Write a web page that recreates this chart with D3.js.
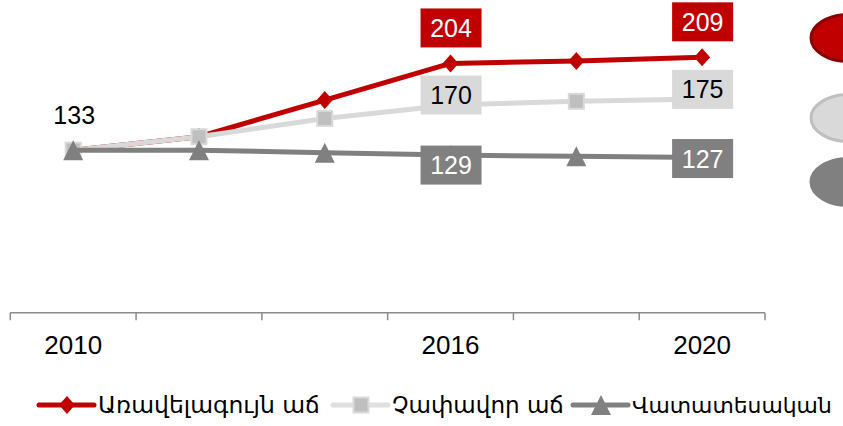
<!DOCTYPE html>
<html>
<head>
<meta charset="utf-8">
<script src="https://cdn.jsdelivr.net/npm/d3@7"></script>
<style>
    body { margin: 0; background: #fff; overflow: hidden; }
</style>
</head>
<body>
<svg id="svg" width="843" height="426"></svg>
<script>
const years = ['2010', '2012', '2014', '2016', '2018', '2020']
const shownYears = ['2010', '2016', '2020']
const seriesNames = ['Առավելագույն աճ', 'Չափավոր աճ', 'Վատատեսական']
const maxGrowth = [133, 144, 174, 204, 206, 209]
const moderateGrowth = [133, 144, 159, 170, 173, 175]
const pessimistic = [133, 133, 131, 129, 128, 127]
const labelledYears = ['2016', '2020']

const svg = d3.select('#svg')

const x = d3.scaleBand().domain(years).range([10.3, 765])
const y = d3.scaleLinear().domain([0, 250]).range([312.7, 7.25])
const cx = (d, i) => x(years[i]) + x.bandwidth() / 2

// decoration on the right edge
const bubbles = [
    { cy: 38, fill: '#c00000', stroke: '#8b0000' },
    { cy: 118, fill: '#d9d9d9', stroke: '#bfbfbf' },
    { cy: 182, fill: '#808080', stroke: '#808080' }
]
svg.selectAll('ellipse.bubble')
    .data(bubbles)
    .enter()
    .append('ellipse')
    .attr('cx', 849)
    .attr('cy', (d) => d.cy)
    .attr('rx', 38)
    .attr('ry', 23.5)
    .attr('fill', (d) => d.fill)
    .attr('stroke', (d) => d.stroke)
    .attr('stroke-width', 3)

// axis
const axisY = y(0)
svg.append('line')
    .attr('x1', x.range()[0]).attr('x2', x.range()[1])
    .attr('y1', axisY).attr('y2', axisY)
    .attr('stroke', '#8c8c8c').attr('stroke-width', 1.5)
const bounds = years.map((d) => x(d)).concat([x.range()[1]])
svg.selectAll('line.tick')
    .data(bounds)
    .enter()
    .append('line')
    .attr('x1', (d) => d).attr('x2', (d) => d)
    .attr('y1', axisY).attr('y2', axisY + 7.5)
    .attr('stroke', '#8c8c8c').attr('stroke-width', 1.5)

const xAxis = d3.axisBottom(x)
    .tickSize(0)
    .tickFormat((d) => shownYears.includes(d) ? d : '')
const gx = svg.append('g')
    .attr('transform', `translate(0,${axisY})`)
    .call(xAxis)
gx.select('.domain').remove()
gx.selectAll('text')
    .attr('y', 41)
    .attr('dy', 0)
    .attr('fill', '#000')
    .style('font-family', '"Liberation Sans", Arial, sans-serif')
    .style('font-size', '26px')

// series
const diamond = 'M0,-9L8,0L0,9L-8,0Z'
const triangle = 'M0,-10L10,10L-10,10Z'
const series = [
    { name: seriesNames[0], values: maxGrowth, line: '#c00000', box: '#c00000', text: '#fff', dy: [-35.5, -35.5] },
    { name: seriesNames[1], values: moderateGrowth, line: '#d9d9d9', box: '#d9d9d9', text: '#000', dy: [-10, -9.5] },
    { name: seriesNames[2], values: pessimistic, line: '#808080', box: '#808080', text: '#fff', dy: [10, 1] }
]

const line = d3.line()
    .x(cx)
    .y((d) => y(d))

function drawMarker(sel, k) {
    if (k === 0) {
        sel.append('path').attr('d', diamond).attr('fill', '#c00000')
    } else if (k === 1) {
        sel.append('rect')
            .attr('x', -7.5).attr('y', -7.5)
            .attr('width', 15).attr('height', 15)
            .attr('fill', '#bfbfbf')
            .attr('stroke', '#d9d9d9')
            .attr('stroke-width', 2)
    } else {
        sel.append('path').attr('d', triangle).attr('fill', '#808080')
    }
}

series.forEach((s, k) => {
    svg.append('path')
        .datum(s.values)
        .attr('d', line)
        .attr('fill', 'none')
        .attr('stroke', s.line)
        .attr('stroke-width', 5)
        .attr('stroke-linejoin', 'round')
    svg.selectAll(`g.m${k}`)
        .data(s.values)
        .enter()
        .append('g')
        .attr('class', `m${k}`)
        .attr('transform', (d, i) => `translate(${cx(d, i)},${y(d)})`)
        .each(function () { drawMarker(d3.select(this), k) })
})

// data labels
series.forEach((s, k) => {
    labelledYears.forEach((yr, j) => {
        const i = years.indexOf(yr)
        const px = cx(null, i) + 0.5
        const py = y(s.values[i]) + s.dy[j]
        svg.append('rect')
            .attr('x', px - 30.5).attr('y', py - 19.5)
            .attr('width', 61).attr('height', 39)
            .attr('fill', s.box)
        svg.append('text')
            .attr('x', px).attr('y', py)
            .attr('dy', '0.36em')
            .attr('text-anchor', 'middle')
            .attr('fill', s.text)
            .style('font-family', '"Liberation Sans", Arial, sans-serif')
            .style('font-size', '25px')
            .text(s.values[i])
    })
})
svg.append('text')
    .attr('x', cx(null, 0) + 1)
    .attr('y', y(maxGrowth[0]) - 26)
    .attr('text-anchor', 'middle')
    .attr('fill', '#000')
    .style('font-family', '"Liberation Sans", Arial, sans-serif')
    .style('font-size', '25px')
    .text(maxGrowth[0])

// legend
const legendX = [39, 333, 573]
const legendW = [222, 172, 200]
const legendY = 405
series.forEach((s, k) => {
    const g = svg.append('g').attr('transform', `translate(${legendX[k]},${legendY})`)
    g.append('line')
        .attr('x1', 0).attr('x2', 55)
        .attr('stroke', k === 1 ? '#e0e0e0' : s.line)
        .attr('stroke-width', 5)
        .attr('stroke-linecap', 'round')
    const m = g.append('g').attr('transform', 'translate(28,0)')
    drawMarker(m, k)
    const t = g.append('text')
        .attr('x', 59)
        .attr('y', 8)
        .attr('fill', '#000')
        .style('font-family', '"DejaVu Sans", sans-serif')
        .style('font-size', '24px')
        .text(s.name)
    // shrink the font until the label fits its slot
    const w = t.node().getComputedTextLength()
    if (w > legendW[k]) {
        t.style('font-size', `${24 * legendW[k] / w}px`)
    }
})
</script>
</body>
</html>
